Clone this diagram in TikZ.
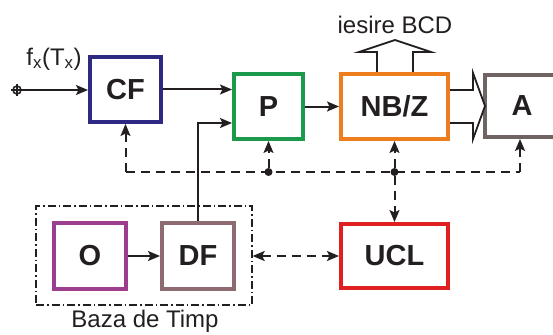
\documentclass[tikz,border=0pt]{standalone}
\usepackage{fontspec}
\setmainfont{Liberation Sans}
\usetikzlibrary{arrows.meta,calc}
\definecolor{txt}{HTML}{231F20}
\definecolor{cCF}{HTML}{2E2A84}
\definecolor{cP}{HTML}{1A9A4A}
\definecolor{cNB}{HTML}{EE7D1E}
\definecolor{cA}{HTML}{6F6461}
\definecolor{cUCL}{HTML}{E02020}
\definecolor{cO}{HTML}{9C3D8F}
\definecolor{cDF}{HTML}{8E6B73}
\tikzset{
  tip/.tip={Stealth[length=12pt,width=10pt,inset=2.5pt]},
  blk/.style={draw, line width=4pt, fill=white, inner sep=0pt, text=txt,
    font=\fontsize{29}{30}\selectfont\bfseries},
  conn/.style={draw=txt, line width=2pt, -tip},
  dconn/.style={conn, dash pattern=on 9pt off 6pt},
  dline/.style={draw=txt, line width=2pt, dash pattern=on 9pt off 6pt},
  hollow/.style={draw=txt, line width=1.8pt, fill=white, line join=miter},
  lbl/.style={text=txt, font=\fontsize{24}{26}\selectfont, inner sep=0pt},
  jdot/.style={circle, fill=txt, inner sep=0pt, minimum size=8pt}
}
\begin{document}
\begin{tikzpicture}[x=1pt,y=-1pt]
\useasboundingbox (0,0) rectangle (553,334);
\clip (0,0) rectangle (553,334);
% time base frame
\node[draw=txt, line width=1.3pt, dash pattern=on 8pt off 3pt on 1.5pt off 3pt,
  minimum width=216pt, minimum height=99pt, inner sep=0pt] (tb) at (144,255.5) {};
% blocks
\node[blk, draw=cCF, minimum width=71pt, minimum height=65pt] (CF) at (125.5,89.5) {CF};
\node[blk, draw=cP, minimum width=69pt, minimum height=65pt] (P) at (268.5,106.5) {P};
\node[blk, draw=cNB, minimum width=107pt, minimum height=65pt] (NB) at (394.5,106.5) {NB/Z};
\node[blk, draw=cA, minimum width=74pt, minimum height=62pt] (A) at (522,106) {A};
\node[blk, draw=cUCL, minimum width=107pt, minimum height=64pt] (UCL) at (394.5,256) {UCL};
\node[blk, draw=cO, minimum width=72pt, minimum height=66pt] (O) at (90,256) {O};
\node[blk, draw=cDF, minimum width=72pt, minimum height=66pt] (DF) at (198,256) {DF};
% labels
\node[lbl] (fx) at (54,59) {f\textsubscript{x}(T\textsubscript{x})};
\node[lbl] (bcd) at (395,25) {iesire BCD};
\node[lbl] (baza) at (145,321) {Baza de Timp};
% input terminal
\coordinate (in) at (17,90);
\draw[txt, line width=1.6pt] (in) circle (4pt);
\draw[txt, line width=1.4pt] ($(in)+(-6,0)$) -- ($(in)+(6,0)$) ($(in)+(0,-6)$) -- ($(in)+(0,6)$);
\draw[conn] (in) -- (CF.west |- in);
% solid connectors
\draw[conn] (CF.east) -- (CF.east -| P.west);
\draw[conn] (P.east |- NB.west) -- (NB.west);
\draw[conn] (DF.north) |- ([yshift=-16.5pt]P.west);
\draw[conn] (O.east) -- (DF.west);
% hollow arrows
\draw[hollow] (NB.north -| 377,0) -- (377,52) -- (359,52) -- (395,40) -- (431,52) -- (413,52) -- (NB.north -| 413,0);
\draw[hollow] (NB.east |- 0,90) -- (473,90) -- (473,73) -- (485,106) -- (473,139) -- (473,123) -- (NB.east |- 0,123);
% dashed control bus
\coordinate (bl) at (CF.south |- 0,172);
\coordinate (br) at (520,172);
\node[jdot] (j1) at (P.south |- 0,172) {};
\node[jdot] (j2) at (NB.south |- 0,172) {};
\draw[dline] (bl) -- (br);
\draw[dconn] (bl) -- (CF.south);
\draw[dconn] (j1) -- (P.south);
\draw[dconn] (j2) -- (NB.south);
\draw[dconn] (br) -- (br |- A.south);
\draw[dconn] (j2) -- (UCL.north);
\draw[dconn, tip-tip] (tb.east |- UCL.west) -- (UCL.west);
\end{tikzpicture}
\end{document}
